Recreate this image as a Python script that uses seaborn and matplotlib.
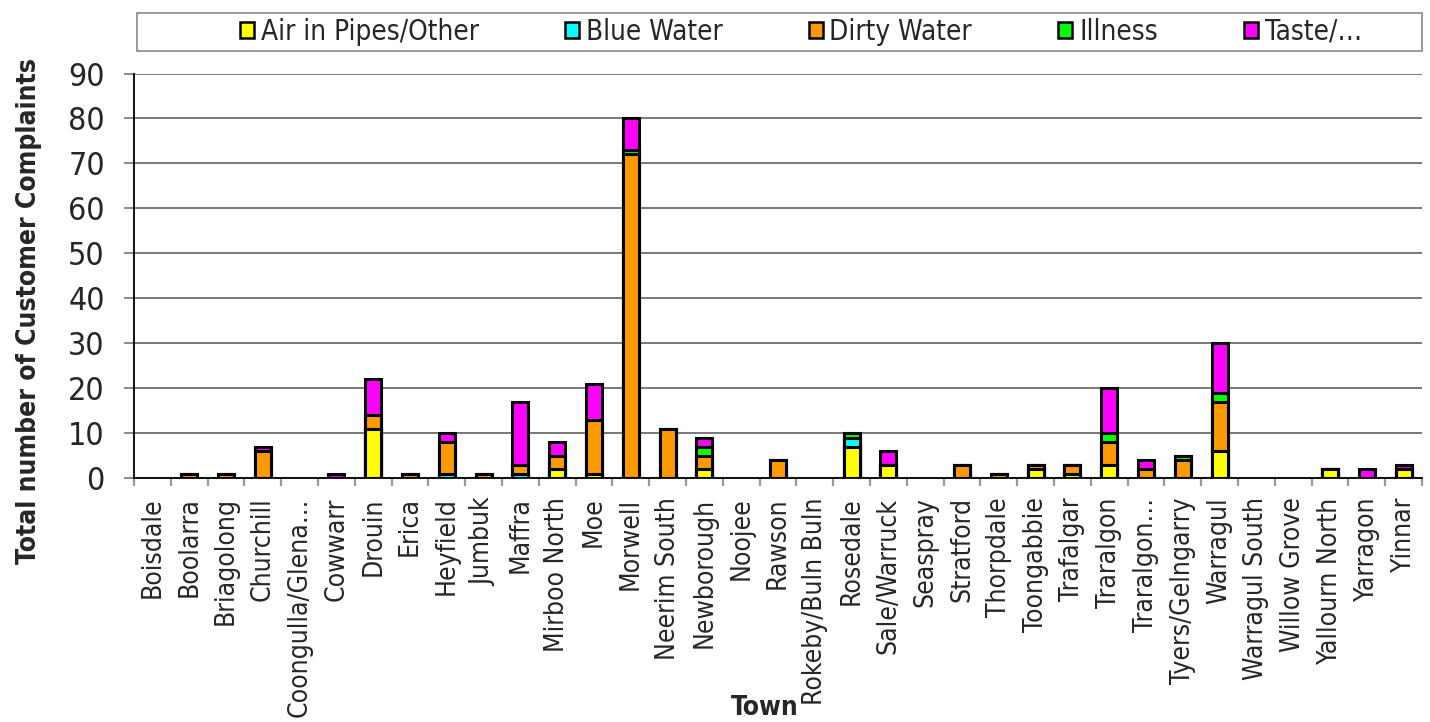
import numpy as np
import pandas as pd
import matplotlib
matplotlib.use("Agg")
import matplotlib.pyplot as plt
from matplotlib.patches import Patch, Rectangle
import seaborn as sns

# Complaint counts per town, by complaint category
towns = ["Boisdale", "Boolarra", "Briagolong", "Churchill", "Coongulla/Glena…",
         "Cowwarr", "Drouin", "Erica", "Heyfield", "Jumbuk", "Maffra",
         "Mirboo North", "Moe", "Morwell", "Neerim South", "Newborough", "Noojee",
         "Rawson", "Rokeby/Buln Buln", "Rosedale", "Sale/Warruck", "Seaspray",
         "Stratford", "Thorpdale", "Toongabbie", "Trafalgar", "Traralgon",
         "Traralgon…", "Tyers/Gelngarry", "Warragul", "Warragul South",
         "Willow Grove", "Yallourn North", "Yarragon", "Yinnar"]

air_in_pipes = [0, 0, 0, 0, 0, 0, 11, 0, 0, 0, 0, 2, 1, 0, 0, 2, 0, 0, 0, 7, 3, 0,
                0, 0, 2, 1, 3, 0, 0, 6, 0, 0, 2, 0, 2]
blue_water = [0, 0, 0, 0, 0, 0, 0, 0, 1, 0, 1, 0, 0, 0, 0, 0, 0, 0, 0, 2, 0, 0,
              0, 0, 0, 0, 0, 0, 0, 0, 0, 0, 0, 0, 0]
dirty_water = [0, 1, 1, 6, 0, 0, 3, 1, 7, 1, 2, 3, 12, 72, 11, 3, 0, 4, 0, 0, 0, 0,
               3, 1, 1, 2, 5, 2, 4, 11, 0, 0, 0, 0, 0]
illness = [0, 0, 0, 0, 0, 0, 0, 0, 0, 0, 0, 0, 0, 1, 0, 2, 0, 0, 0, 1, 0, 0,
           0, 0, 0, 0, 2, 0, 1, 2, 0, 0, 0, 0, 0]
taste = [0, 0, 0, 1, 0, 1, 8, 0, 2, 0, 14, 3, 8, 7, 0, 2, 0, 0, 0, 0, 3, 0,
         0, 0, 0, 0, 10, 2, 0, 11, 0, 0, 0, 2, 1]

series_names = ["Air in Pipes/Other", "Blue Water", "Dirty Water", "Illness", "Taste/…"]
series_values = [air_in_pipes, blue_water, dirty_water, illness, taste]
series_colors = ["#FFFF00", "#00FFFF", "#FF9900", "#00FF00", "#FF00FF"]
y_ticks = [0, 10, 20, 30, 40, 50, 60, 70, 80, 90]

sns.set_theme(style="white")
plt.rcParams["font.family"] = ["DejaVu Sans"]
plt.rcParams["font.stretch"] = "condensed"
FS_X = 19
FS_Y = 23
FS_LEG = 20
FS_LAB = 19

fig = plt.figure(figsize=(14.3, 7.22), dpi=100)
ax = fig.add_axes([134 / 1430, 244 / 722, 1288 / 1430, 404.5 / 722])

# Stacked bars: draw cumulative totals from the top segment down
df = pd.DataFrame({name: vals for name, vals in zip(series_names, series_values)})
df.insert(0, "Town", towns)
cum = df[series_names].cumsum(axis=1)
cum = cum.where(cum > 0)  # empty stacks draw nothing
for name, color in reversed(list(zip(series_names, series_colors))):
    sns.barplot(x=df["Town"], y=cum[name].values, order=towns, color=color,
                width=0.43, edgecolor="black", linewidth=2.2, saturation=1,
                ax=ax, zorder=3)

ax.set_xlim(-0.5, len(towns) - 0.5)
ax.set_ylim(0, 90)
ax.set_yticks(y_ticks)
ax.set_yticklabels([str(v) for v in y_ticks], fontsize=FS_Y)
ax.set_xticks(range(len(towns)))
ax.set_xticklabels(towns, rotation=90, fontsize=FS_X, va="top", ha="center")
ax.set_xticks(np.arange(-0.5, len(towns), 1), minor=True)
ax.tick_params(axis="x", which="major", length=0, pad=14)
ax.tick_params(axis="x", which="minor", length=6, width=1.6, color="#999999",
               direction="out", bottom=True)
ax.tick_params(axis="y", which="major", length=7, width=1.2, color="#777777",
               direction="out", pad=14, left=True)
ax.set_xlabel("")
ax.set_ylabel("")

ax.yaxis.grid(True, color="#6e6e6e", linewidth=1.3, zorder=0)
ax.xaxis.grid(False)
ax.set_axisbelow(True)
for side in ["top", "right"]:
    ax.spines[side].set_visible(False)
for side in ["left", "bottom"]:
    ax.spines[side].set_color("black")
    ax.spines[side].set_linewidth(1.3)
    ax.spines[side].set_zorder(4)

fig.text(29 / 1430, 1 - 311 / 722, "Total number of Customer Complaints",
         rotation=90, ha="center", va="center", fontsize=FS_LAB, fontweight="bold")
fig.text(765 / 1430, 1 - 708 / 722, "Town", ha="center", va="center",
         fontsize=FS_LAB, fontweight="bold")

# Legend with a plain rectangular frame across the top
fig.patches.append(Rectangle((137 / 1430, 1 - 51 / 722), 1285 / 1430, 38 / 722,
                             transform=fig.transFigure, facecolor="white",
                             edgecolor="#888888", linewidth=1.2, zorder=0))
handles = [Patch(facecolor=c, edgecolor="black", linewidth=1.8) for c in series_colors]
fig.legend(handles, series_names, loc="center", bbox_to_anchor=(801 / 1430, 1 - 32 / 722),
           ncol=5, frameon=False, fontsize=FS_LEG, handlelength=0.5, handleheight=0.5,
           handletextpad=0.25, columnspacing=3.1, borderpad=0)

fig.savefig("out.png", dpi=100)
